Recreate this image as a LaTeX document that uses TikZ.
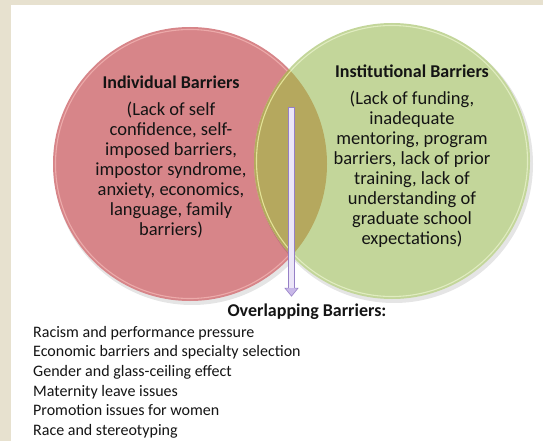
\documentclass[tikz,border=0pt]{standalone}
\usepackage{fontspec}
\setmainfont{Carlito}
\usetikzlibrary{calc}
\definecolor{beige}{RGB}{231,225,207}
\definecolor{redfill}{RGB}{215,133,137}
\definecolor{redrim}{RGB}{236,170,170}
\definecolor{greenfill}{RGB}{195,214,154}
\definecolor{greenrim}{RGB}{224,236,192}
\definecolor{olivefill}{RGB}{181,168,94}
\definecolor{oliverim}{RGB}{226,226,150}
\definecolor{lavfill}{RGB}{236,230,248}
\definecolor{lavhead}{RGB}{200,184,232}
\definecolor{lavline}{RGB}{150,128,198}
\definecolor{txt}{RGB}{20,20,20}
\begin{document}
\begin{tikzpicture}[x=1pt,y=-1pt,
  circtext/.style={align=center, font=\fontsize{18.5}{20}\selectfont, text=txt, inner sep=0pt, anchor=north},
  titletext/.style={font=\fontsize{18}{20}\selectfont\bfseries, text=txt, inner sep=0pt, anchor=base},
  listtext/.style={align=left, font=\fontsize{16}{19.6}\selectfont, text=txt, anchor=north west, inner sep=0pt},
  shadowc/.style={fill=black, opacity=0.10},
  arrowshape/.style={draw=lavline, line width=0.6pt, line join=miter}]
\useasboundingbox (0,0) rectangle (543,441);
\fill[beige] (0,0) rectangle (543,441);
\fill[white] (11,5) rectangle (543,441);

\coordinate (cL) at (190,164);
\coordinate (cR) at (392,161);

% left circle
\fill[shadowc] ($(cL)+(2,3)$) circle[radius=138];
\fill[redfill] (cL) circle[radius=137];
\draw[redrim, line width=1.1pt] (cL) circle[radius=134.5];

% right circle
\fill[shadowc] ($(cR)+(2,3)$) circle[radius=139];
\fill[greenfill] (cR) circle[radius=138];
\draw[greenrim, line width=1.1pt] (cR) circle[radius=135.5];

% overlap
\begin{scope}
  \clip (cL) circle[radius=137];
  \fill[olivefill] (cR) circle[radius=138];
  \draw[oliverim, line width=1.1pt] (cR) circle[radius=135.5];
\end{scope}

% texts in circles
\node[titletext] (tL) at (171,89) {Individual Barriers};
\node[circtext] (bL) at (171,101.5) {(Lack of self\\confidence, self-\\imposed barriers,\\impostor syndrome,\\anxiety, economics,\\language, family\\barriers)};

\node[titletext] (tR) at (412,78) {Institutional Barriers};
\node[circtext] (bR) at (412,90.5) {(Lack of funding,\\inadequate\\mentoring, program\\barriers, lack of prior\\training, lack of\\understanding of\\graduate school\\expectations)};

% overlapping heading and list
\node[titletext] (ov) at (307,316) {Overlapping Barriers:};
\node[listtext] (list) at (33,326) {Racism and performance pressure\\Economic barriers and specialty selection\\Gender and glass-ceiling effect\\Maternity leave issues\\Promotion issues for women\\Race and stereotyping};

% arrow
\coordinate (atop) at (291.5,107);
\coordinate (atip) at ($(ov.north)+(-15.5,-7)$);
\fill[lavfill] ($(atop)+(-3,0)$) rectangle ($(atip)+(3,-8)$);
\draw[arrowshape] ($(atip)+(-3,-8)$) -- ($(atop)+(-3,0)$) -- ($(atop)+(3,0)$) -- ($(atip)+(3,-8)$);
\draw[arrowshape, fill=lavhead] ($(atip)+(-3,-8)$) -- ($(atip)+(-6.5,-8)$) -- (atip) -- ($(atip)+(6.5,-8)$) -- ($(atip)+(3,-8)$);
\end{tikzpicture}
\end{document}
